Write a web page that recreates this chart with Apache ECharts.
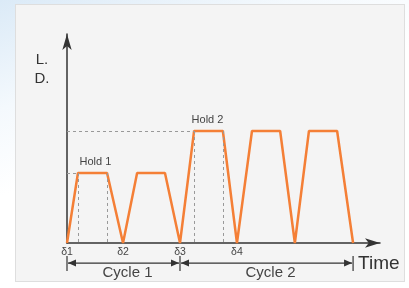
<!DOCTYPE html>
<html>
<head>
<meta charset="utf-8">
<script src="https://cdn.jsdelivr.net/npm/echarts@6/dist/echarts.min.js"></script>
<style>
  html, body { margin: 0; padding: 0; }
  body {
    width: 409px; height: 288px; position: relative; overflow: hidden;
    background: linear-gradient(160deg, #dbeaf7 0%, #f4f9fd 25%, #ffffff 45%);
  }
  #panel {
    position: absolute; left: 15px; top: 4px; width: 390px; height: 278px;
    background: #f4f4f4; border: 1px solid #dedede; box-sizing: border-box;
  }
  #main { position: absolute; left: 0; top: 0; width: 409px; height: 288px; }
</style>
</head>
<body>
<div id="panel"></div>
<div id="main"></div>
<script>
  // load profile: time and load level of each corner of the curve
  var times = [0, 3.5, 12.8, 17.9, 22.4, 31.3, 36.1, 40.6, 49.8, 54.3, 59.1, 68.1, 72.8, 77.3, 86.3, 91.4];
  var loads = [0, 33.5, 33.5, 0, 33.5, 33.5, 0, 53.6, 53.6, 0, 53.6, 53.6, 0, 53.6, 53.6, 0];

  // tick labels under the time axis
  var deltaTicks = [0, 17.9, 36.1, 54.3];
  var deltaLabels = ['δ1', 'δ2', 'δ3', 'δ4'];

  // hold levels
  var holdLabels = ['Hold 1', 'Hold 2'];
  var holdStart = [3.5, 40.6];
  var holdEnd = [12.8, 49.8];
  var holdLevel = [33.5, 53.6];

  // cycle brackets
  var cycleBounds = [0, 36.1, 91.4];
  var cycleLabels = ['Cycle 1', 'Cycle 2'];
  var bracketLevel = -9.6;

  var font = '"Liberation Sans", Arial, sans-serif';
  var chart = echarts.init(document.getElementById('main'));

  var guides = [];
  for (var i = 0; i < holdLabels.length; i++) {
    guides.push([{ coord: [0, holdLevel[i]] }, { coord: [holdStart[i], holdLevel[i]] }]);
    guides.push([{ coord: [holdStart[i], holdLevel[i]] }, { coord: [holdStart[i], 0] }]);
    guides.push([{ coord: [holdEnd[i], holdLevel[i]] }, { coord: [holdEnd[i], 0] }]);
  }

  var option = {
    animation: false,
    grid: { left: 67, right: 29, top: 34, bottom: 45, containLabel: false, outerBoundsMode: 'none' },
    xAxis: {
      type: 'value', min: 0, max: 100,
      axisLine: { show: true, onZero: true, symbol: ['none', 'arrow'], symbolSize: [7, 15],
        lineStyle: { color: '#333', width: 1.5 } },
      axisTick: { show: false },
      splitLine: { show: false },
      axisLabel: {
        customValues: deltaTicks, margin: 4, fontSize: 10.5, color: '#444', fontFamily: font,
        formatter: function (v) { return deltaLabels[deltaTicks.indexOf(v)]; }
      }
    },
    yAxis: {
      type: 'value', min: 0, max: 100,
      axisLine: { show: true, symbol: ['none', 'arrow'], symbolSize: [7, 16],
        lineStyle: { color: '#333', width: 1.5 } },
      axisTick: { show: false },
      splitLine: { show: false },
      axisLabel: { show: false }
    },
    series: [{
      type: 'line',
      data: times.map(function (t, i) { return [t, loads[i]]; }),
      symbol: 'none',
      lineStyle: { color: '#f47f36', width: 2.5 },
      z: 3,
      markLine: {
        silent: true, symbol: ['none', 'none'],
        label: { show: false },
        lineStyle: { color: '#999', width: 1, type: [3, 3] },
        data: guides
      },
      markPoint: {
        silent: true, symbol: 'circle', symbolSize: 1,
        itemStyle: { color: 'transparent' },
        label: { show: true, color: '#444', fontSize: 11, fontFamily: font,
          formatter: function (p) { return p.name; } },
        data: [
          { name: holdLabels[0], coord: [holdStart[0], holdLevel[0]], label: { position: [2, -16] } },
          { name: holdLabels[1], coord: [holdStart[1], holdLevel[1]], label: { position: [-2, -16] } }
        ]
      }
    }]
  };
  chart.setOption(option);

  function px(x, y) { return chart.convertToPixel({ gridIndex: 0 }, [x, y]); }

  var graphics = [];
  var by = px(0, bracketLevel)[1];
  var lineStyle = { stroke: '#333', lineWidth: 1.2 };
  for (var k = 0; k < cycleBounds.length; k++) {
    var bx = px(cycleBounds[k], 0)[0];
    graphics.push({ type: 'line', shape: { x1: bx, y1: by - 7, x2: bx, y2: by + 8 }, style: lineStyle });
  }
  for (var c = 0; c < cycleLabels.length; c++) {
    var x0 = px(cycleBounds[c], 0)[0] + 1;
    var x1 = px(cycleBounds[c + 1], 0)[0] - 1;
    graphics.push({ type: 'line', shape: { x1: x0, y1: by, x2: x1, y2: by }, style: lineStyle });
    graphics.push({ type: 'polygon', shape: { points: [[x0, by], [x0 + 8, by - 3.5], [x0 + 8, by + 3.5]] }, style: { fill: '#333' } });
    graphics.push({ type: 'polygon', shape: { points: [[x1, by], [x1 - 8, by - 3.5], [x1 - 8, by + 3.5]] }, style: { fill: '#333' } });
    graphics.push({ type: 'text', x: (x0 + x1) / 2 + 4, y: by + 10,
      style: { text: cycleLabels[c], fill: '#444', font: '15px ' + font, textAlign: 'center', textVerticalAlign: 'middle' } });
  }
  var endX = px(cycleBounds[cycleBounds.length - 1], 0)[0];
  graphics.push({ type: 'text', x: endX + 5, y: by + 1,
    style: { text: 'Time', fill: '#333', font: '19px ' + font, textAlign: 'left', textVerticalAlign: 'middle' } });
  var yTop = px(0, 100);
  graphics.push({ type: 'text', x: yTop[0] - 25, y: yTop[1] + 16,
    style: { text: 'L.\nD.', fill: '#333', font: '15px ' + font, lineHeight: 19, textAlign: 'center', textVerticalAlign: 'top' } });

  chart.setOption({ graphic: graphics });
</script>
</body>
</html>
